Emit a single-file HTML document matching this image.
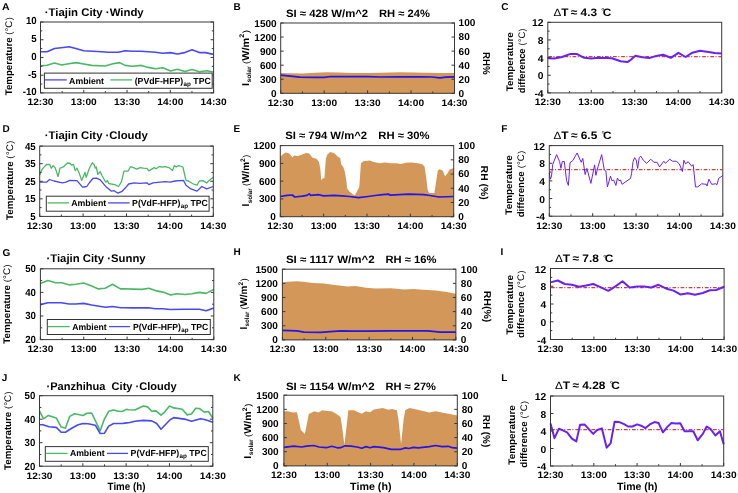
<!DOCTYPE html>
<html><head><meta charset="utf-8"><style>
html,body{margin:0;padding:0;background:#fff;width:738px;height:493px;overflow:hidden}
svg{display:block;font-family:"Liberation Sans", sans-serif;text-rendering:geometricPrecision}
</style></head><body>
<svg xmlns="http://www.w3.org/2000/svg" width="738" height="493" viewBox="0 0 738 493">
<defs><filter id="bl" x="0" y="0" width="100%" height="100%"><feGaussianBlur stdDeviation="0.4"/></filter></defs>
<rect width="738" height="493" fill="#fff"/>
<g filter="url(#bl)">
<rect width="738" height="493" fill="#fff"/>
<polyline points="40.5,65.9 47.1,65.2 54.5,62.9 61.8,65 68.5,63.8 76.4,62.6 83.7,64 91.7,65.4 105,66 113,63.8 119.7,62.6 125,65.4 132.3,66.2 141.5,65.4 148.2,67.4 155.5,68.7 162.8,67.8 170.7,71.1 177.4,69.3 184.8,71.5 192.1,69.6 199.4,71.7 206.7,70.7 213.4,72" fill="none" stroke="#4cb866" stroke-width="1.6" stroke-linejoin="round"/>
<polyline points="40.5,51.8 47.1,51.8 54.5,48.5 61.2,47.7 69.1,46.7 75.8,48.5 83.7,50.7 92.9,51.3 101.4,51.8 108.7,52.3 118.5,52.2 125,50.7 132.3,51.3 140.9,51.2 155.5,52.2 162.8,53.2 170.1,52.6 177.4,54 184.8,52.6 192.1,49.8 199.4,52.6 205.5,52.6 213.4,54.4" fill="none" stroke="#4848f2" stroke-width="1.6" stroke-linejoin="round"/>
<line x1="40.5" y1="92.9" x2="40.5" y2="89.9" stroke="#383838" stroke-width="1"/>
<line x1="83.78" y1="92.9" x2="83.78" y2="89.9" stroke="#383838" stroke-width="1"/>
<line x1="127.05" y1="92.9" x2="127.05" y2="89.9" stroke="#383838" stroke-width="1"/>
<line x1="170.32" y1="92.9" x2="170.32" y2="89.9" stroke="#383838" stroke-width="1"/>
<line x1="213.6" y1="92.9" x2="213.6" y2="89.9" stroke="#383838" stroke-width="1"/>
<line x1="62.14" y1="92.9" x2="62.14" y2="91.1" stroke="#383838" stroke-width="1"/>
<line x1="105.41" y1="92.9" x2="105.41" y2="91.1" stroke="#383838" stroke-width="1"/>
<line x1="148.69" y1="92.9" x2="148.69" y2="91.1" stroke="#383838" stroke-width="1"/>
<line x1="191.96" y1="92.9" x2="191.96" y2="91.1" stroke="#383838" stroke-width="1"/>
<line x1="40.5" y1="22" x2="43.5" y2="22" stroke="#383838" stroke-width="1"/>
<line x1="213.6" y1="22" x2="210.6" y2="22" stroke="#383838" stroke-width="1"/>
<line x1="40.5" y1="39.73" x2="43.5" y2="39.73" stroke="#383838" stroke-width="1"/>
<line x1="213.6" y1="39.73" x2="210.6" y2="39.73" stroke="#383838" stroke-width="1"/>
<line x1="40.5" y1="57.45" x2="43.5" y2="57.45" stroke="#383838" stroke-width="1"/>
<line x1="213.6" y1="57.45" x2="210.6" y2="57.45" stroke="#383838" stroke-width="1"/>
<line x1="40.5" y1="75.18" x2="43.5" y2="75.18" stroke="#383838" stroke-width="1"/>
<line x1="213.6" y1="75.18" x2="210.6" y2="75.18" stroke="#383838" stroke-width="1"/>
<line x1="40.5" y1="92.9" x2="43.5" y2="92.9" stroke="#383838" stroke-width="1"/>
<line x1="213.6" y1="92.9" x2="210.6" y2="92.9" stroke="#383838" stroke-width="1"/>
<line x1="40.5" y1="30.86" x2="42.3" y2="30.86" stroke="#383838" stroke-width="1"/>
<line x1="213.6" y1="30.86" x2="211.8" y2="30.86" stroke="#383838" stroke-width="1"/>
<line x1="40.5" y1="48.59" x2="42.3" y2="48.59" stroke="#383838" stroke-width="1"/>
<line x1="213.6" y1="48.59" x2="211.8" y2="48.59" stroke="#383838" stroke-width="1"/>
<line x1="40.5" y1="66.31" x2="42.3" y2="66.31" stroke="#383838" stroke-width="1"/>
<line x1="213.6" y1="66.31" x2="211.8" y2="66.31" stroke="#383838" stroke-width="1"/>
<line x1="40.5" y1="84.04" x2="42.3" y2="84.04" stroke="#383838" stroke-width="1"/>
<line x1="213.6" y1="84.04" x2="211.8" y2="84.04" stroke="#383838" stroke-width="1"/>
<rect x="40.5" y="22" width="173.1" height="70.9" fill="none" stroke="#383838" stroke-width="1"/>
<text x="2.1" y="10" font-size="10" font-weight="bold" textLength="7.6" lengthAdjust="spacingAndGlyphs">A</text>
<text x="44.7" y="16" font-size="11.1" font-weight="bold" textLength="99" lengthAdjust="spacingAndGlyphs">·Tiajin City ·Windy</text>
<text x="36.7" y="24.4" font-size="10.3" text-anchor="end" font-weight="bold" textLength="10.77" lengthAdjust="spacingAndGlyphs">10</text>
<text x="36.7" y="42.13" font-size="10.3" text-anchor="end" font-weight="bold" textLength="5.38" lengthAdjust="spacingAndGlyphs">5</text>
<text x="36.7" y="59.85" font-size="10.3" text-anchor="end" font-weight="bold" textLength="5.38" lengthAdjust="spacingAndGlyphs">0</text>
<text x="36.7" y="77.58" font-size="10.3" text-anchor="end" font-weight="bold" textLength="8.61" lengthAdjust="spacingAndGlyphs">-5</text>
<text x="36.7" y="95.3" font-size="10.3" text-anchor="end" font-weight="bold" textLength="13.99" lengthAdjust="spacingAndGlyphs">-10</text>
<text x="40.5" y="105.2" font-size="9.4" text-anchor="middle" font-weight="bold" textLength="26" lengthAdjust="spacingAndGlyphs">12:30</text>
<text x="83.78" y="105.2" font-size="9.4" text-anchor="middle" font-weight="bold" textLength="26" lengthAdjust="spacingAndGlyphs">13:00</text>
<text x="127.05" y="105.2" font-size="9.4" text-anchor="middle" font-weight="bold" textLength="26" lengthAdjust="spacingAndGlyphs">13:30</text>
<text x="170.32" y="105.2" font-size="9.4" text-anchor="middle" font-weight="bold" textLength="26" lengthAdjust="spacingAndGlyphs">14:00</text>
<text x="213.6" y="105.2" font-size="9.4" text-anchor="middle" font-weight="bold" textLength="26" lengthAdjust="spacingAndGlyphs">14:30</text>
<rect x="44.4" y="73.1" width="167.8" height="15.2" fill="#fff" stroke="#333" stroke-width="1"/>
<line x1="44.9" y1="79.9" x2="66.8" y2="79.9" stroke="#4848f2" stroke-width="1.3"/>
<text x="69.1" y="83.7" font-size="8.9" font-weight="bold" textLength="34.9" lengthAdjust="spacingAndGlyphs">Ambient</text>
<line x1="110.4" y1="79.9" x2="132.1" y2="79.9" stroke="#4cb866" stroke-width="1.3"/>
<g transform="translate(134.7 83.7) scale(0.9848 1)"><text x="0" y="0" font-size="8.9" font-weight="bold">(PVdF-HFP)</text><text x="49.64" y="2" font-size="6.4" font-weight="bold">ap</text><text x="57.11" y="0" font-size="8.9" font-weight="bold">&#160;TPC</text></g>
<g transform="translate(12.3 95.2) rotate(-90) scale(1.0051 1)"><text x="0" y="0" font-size="9.6" font-weight="bold">Temperature</text><text x="60.04" y="0" font-size="9">(</text><text x="63.34" y="0" font-size="9.6">°C</text><text x="74.51" y="0" font-size="9">)</text></g>
<polyline points="39.7,174.9 41.7,170 43.5,167.6 46.5,164.5 49.6,164.3 51.4,168.2 53.2,165.7 55.1,167.6 58.1,176.5 60,168.2 61.8,167.6 63.6,166.7 67.3,163 70.3,163.5 71.5,165.1 73.4,164.3 75.2,170.6 77,168.2 78.9,172.4 81.7,180.4 85,172.4 86.2,177.3 89.2,168.8 92.3,162.7 94.1,164.5 95.3,168.2 96.3,167 97.8,174.3 100.2,171.8 102,175.5 105.7,182.2 107.5,180.4 108.7,183.4 111.2,184 114.8,184.6 118.5,186.5 121.5,181.6 124,171.2 128,171.2 130.5,166.7 133.5,167.6 136.6,169.1 140.2,167.6 143.3,168.2 147,168.4 148.8,170.9 154.3,167.6 156.1,168.8 159.8,166.3 161.6,167.2 165.2,166.7 168.9,167.6 172.6,170.4 174.4,165.5 176.2,167 178.7,165.7 182.9,167 186,180.4 188.4,181 193.3,184 197,185.2 199.4,181 203,180.6 206.7,183 209.1,180.4 213.3,177.3" fill="none" stroke="#4cb866" stroke-width="1.3" stroke-linejoin="round"/>
<polyline points="39.7,182.2 46.5,182.2 49.6,179.5 53.9,181 62.4,182.8 66,182.2 69.7,180.4 77,180.6 82.5,187.1 86.8,186.5 89.2,183 92.9,178.5 96.5,178.2 100.2,179.8 106.3,187.1 111.2,191.1 114.2,190.7 117.9,193.2 122.1,191.3 125,188.3 128.7,184 134.1,182.8 139.6,183.4 147,182.8 148.8,184.6 153,182.8 165.2,181.6 170.1,182.2 175,181 183.5,180.4 186,185.2 190.9,188.9 197,191.1 201.8,186.5 206.7,188.9 213.3,186.5" fill="none" stroke="#4848f2" stroke-width="1.3" stroke-linejoin="round"/>
<line x1="39.7" y1="216.4" x2="39.7" y2="213.4" stroke="#383838" stroke-width="1"/>
<line x1="83.1" y1="216.4" x2="83.1" y2="213.4" stroke="#383838" stroke-width="1"/>
<line x1="126.5" y1="216.4" x2="126.5" y2="213.4" stroke="#383838" stroke-width="1"/>
<line x1="169.9" y1="216.4" x2="169.9" y2="213.4" stroke="#383838" stroke-width="1"/>
<line x1="213.3" y1="216.4" x2="213.3" y2="213.4" stroke="#383838" stroke-width="1"/>
<line x1="61.4" y1="216.4" x2="61.4" y2="214.6" stroke="#383838" stroke-width="1"/>
<line x1="104.8" y1="216.4" x2="104.8" y2="214.6" stroke="#383838" stroke-width="1"/>
<line x1="148.2" y1="216.4" x2="148.2" y2="214.6" stroke="#383838" stroke-width="1"/>
<line x1="191.6" y1="216.4" x2="191.6" y2="214.6" stroke="#383838" stroke-width="1"/>
<line x1="39.7" y1="146.1" x2="42.7" y2="146.1" stroke="#383838" stroke-width="1"/>
<line x1="213.3" y1="146.1" x2="210.3" y2="146.1" stroke="#383838" stroke-width="1"/>
<line x1="39.7" y1="163.68" x2="42.7" y2="163.68" stroke="#383838" stroke-width="1"/>
<line x1="213.3" y1="163.68" x2="210.3" y2="163.68" stroke="#383838" stroke-width="1"/>
<line x1="39.7" y1="181.25" x2="42.7" y2="181.25" stroke="#383838" stroke-width="1"/>
<line x1="213.3" y1="181.25" x2="210.3" y2="181.25" stroke="#383838" stroke-width="1"/>
<line x1="39.7" y1="198.82" x2="42.7" y2="198.82" stroke="#383838" stroke-width="1"/>
<line x1="213.3" y1="198.82" x2="210.3" y2="198.82" stroke="#383838" stroke-width="1"/>
<line x1="39.7" y1="216.4" x2="42.7" y2="216.4" stroke="#383838" stroke-width="1"/>
<line x1="213.3" y1="216.4" x2="210.3" y2="216.4" stroke="#383838" stroke-width="1"/>
<line x1="39.7" y1="154.89" x2="41.5" y2="154.89" stroke="#383838" stroke-width="1"/>
<line x1="213.3" y1="154.89" x2="211.5" y2="154.89" stroke="#383838" stroke-width="1"/>
<line x1="39.7" y1="172.46" x2="41.5" y2="172.46" stroke="#383838" stroke-width="1"/>
<line x1="213.3" y1="172.46" x2="211.5" y2="172.46" stroke="#383838" stroke-width="1"/>
<line x1="39.7" y1="190.04" x2="41.5" y2="190.04" stroke="#383838" stroke-width="1"/>
<line x1="213.3" y1="190.04" x2="211.5" y2="190.04" stroke="#383838" stroke-width="1"/>
<line x1="39.7" y1="207.61" x2="41.5" y2="207.61" stroke="#383838" stroke-width="1"/>
<line x1="213.3" y1="207.61" x2="211.5" y2="207.61" stroke="#383838" stroke-width="1"/>
<rect x="39.7" y="146.1" width="173.6" height="70.3" fill="none" stroke="#383838" stroke-width="1"/>
<text x="2.4" y="132.1" font-size="10" font-weight="bold">D</text>
<text x="44.8" y="139.1" font-size="11.1" font-weight="bold" textLength="102.9" lengthAdjust="spacingAndGlyphs">·Tiajin City ·Cloudy</text>
<text x="35.7" y="149.5" font-size="10.3" text-anchor="end" font-weight="bold" textLength="10.77" lengthAdjust="spacingAndGlyphs">45</text>
<text x="35.7" y="167.08" font-size="10.3" text-anchor="end" font-weight="bold" textLength="10.77" lengthAdjust="spacingAndGlyphs">35</text>
<text x="35.7" y="184.65" font-size="10.3" text-anchor="end" font-weight="bold" textLength="10.77" lengthAdjust="spacingAndGlyphs">25</text>
<text x="35.7" y="202.22" font-size="10.3" text-anchor="end" font-weight="bold" textLength="10.77" lengthAdjust="spacingAndGlyphs">15</text>
<text x="35.7" y="219.8" font-size="10.3" text-anchor="end" font-weight="bold" textLength="5.38" lengthAdjust="spacingAndGlyphs">5</text>
<text x="39.7" y="228.7" font-size="9.4" text-anchor="middle" font-weight="bold" textLength="26" lengthAdjust="spacingAndGlyphs">12:30</text>
<text x="83.1" y="228.7" font-size="9.4" text-anchor="middle" font-weight="bold" textLength="26" lengthAdjust="spacingAndGlyphs">13:00</text>
<text x="126.5" y="228.7" font-size="9.4" text-anchor="middle" font-weight="bold" textLength="26" lengthAdjust="spacingAndGlyphs">13:30</text>
<text x="169.9" y="228.7" font-size="9.4" text-anchor="middle" font-weight="bold" textLength="26" lengthAdjust="spacingAndGlyphs">14:00</text>
<text x="213.3" y="228.7" font-size="9.4" text-anchor="middle" font-weight="bold" textLength="26" lengthAdjust="spacingAndGlyphs">14:30</text>
<rect x="46.3" y="196.2" width="162.8" height="15" fill="#fff" stroke="#333" stroke-width="1"/>
<line x1="47.6" y1="202.9" x2="69" y2="202.9" stroke="#4cb866" stroke-width="1.3"/>
<text x="71.2" y="206" font-size="8.9" font-weight="bold" textLength="35" lengthAdjust="spacingAndGlyphs">Ambient</text>
<line x1="108.1" y1="202.9" x2="129.6" y2="202.9" stroke="#4848f2" stroke-width="1.3"/>
<g transform="translate(132.1 206) scale(0.9796 1)"><text x="0" y="0" font-size="8.9" font-weight="bold">P(VdF-HFP)</text><text x="49.64" y="2" font-size="6.4" font-weight="bold">ap</text><text x="57.11" y="0" font-size="8.9" font-weight="bold">&#160;TPC</text></g>
<g transform="translate(12.6 219.9) rotate(-90) scale(1.0206 1)"><text x="0" y="0" font-size="9.6" font-weight="bold">Temperature</text><text x="60.04" y="0" font-size="9">(</text><text x="63.34" y="0" font-size="9.6">°C</text><text x="74.51" y="0" font-size="9">)</text></g>
<polyline points="40.4,283.5 47.8,280.6 55.7,282.7 61.8,282.7 69.7,284.9 75.8,284.3 83.7,283 91.7,286 98.4,288.9 105.1,288.2 112.6,284.3 120.3,288.9 125,288.8 132.3,289.1 142.1,289.4 148.8,288.2 155.5,290.6 162.8,292.1 170.7,294.9 177.4,293.7 184.8,294.5 192.1,293.7 199.4,292.4 206.1,293.4 213.8,289.4" fill="none" stroke="#4cb866" stroke-width="1.6" stroke-linejoin="round"/>
<polyline points="40.4,304.6 47.8,302.8 61.2,302.8 69.1,304 75.8,304 83.7,303.4 91.7,305 99,306.2 105.7,307.2 112.4,306.5 120.9,307.7 125,307.7 132.3,307.9 148.2,307.7 155.5,308.7 162.8,308.7 170.1,309.5 184.8,309.3 199.4,309.3 206.1,310.7 213.8,307.9" fill="none" stroke="#4848f2" stroke-width="1.6" stroke-linejoin="round"/>
<line x1="40.4" y1="339.6" x2="40.4" y2="336.6" stroke="#383838" stroke-width="1"/>
<line x1="83.75" y1="339.6" x2="83.75" y2="336.6" stroke="#383838" stroke-width="1"/>
<line x1="127.1" y1="339.6" x2="127.1" y2="336.6" stroke="#383838" stroke-width="1"/>
<line x1="170.45" y1="339.6" x2="170.45" y2="336.6" stroke="#383838" stroke-width="1"/>
<line x1="213.8" y1="339.6" x2="213.8" y2="336.6" stroke="#383838" stroke-width="1"/>
<line x1="62.08" y1="339.6" x2="62.08" y2="337.8" stroke="#383838" stroke-width="1"/>
<line x1="105.43" y1="339.6" x2="105.43" y2="337.8" stroke="#383838" stroke-width="1"/>
<line x1="148.78" y1="339.6" x2="148.78" y2="337.8" stroke="#383838" stroke-width="1"/>
<line x1="192.12" y1="339.6" x2="192.12" y2="337.8" stroke="#383838" stroke-width="1"/>
<line x1="40.4" y1="268.8" x2="43.4" y2="268.8" stroke="#383838" stroke-width="1"/>
<line x1="213.8" y1="268.8" x2="210.8" y2="268.8" stroke="#383838" stroke-width="1"/>
<line x1="40.4" y1="292.4" x2="43.4" y2="292.4" stroke="#383838" stroke-width="1"/>
<line x1="213.8" y1="292.4" x2="210.8" y2="292.4" stroke="#383838" stroke-width="1"/>
<line x1="40.4" y1="316" x2="43.4" y2="316" stroke="#383838" stroke-width="1"/>
<line x1="213.8" y1="316" x2="210.8" y2="316" stroke="#383838" stroke-width="1"/>
<line x1="40.4" y1="339.6" x2="43.4" y2="339.6" stroke="#383838" stroke-width="1"/>
<line x1="213.8" y1="339.6" x2="210.8" y2="339.6" stroke="#383838" stroke-width="1"/>
<line x1="40.4" y1="280.6" x2="42.2" y2="280.6" stroke="#383838" stroke-width="1"/>
<line x1="213.8" y1="280.6" x2="212" y2="280.6" stroke="#383838" stroke-width="1"/>
<line x1="40.4" y1="304.2" x2="42.2" y2="304.2" stroke="#383838" stroke-width="1"/>
<line x1="213.8" y1="304.2" x2="212" y2="304.2" stroke="#383838" stroke-width="1"/>
<line x1="40.4" y1="327.8" x2="42.2" y2="327.8" stroke="#383838" stroke-width="1"/>
<line x1="213.8" y1="327.8" x2="212" y2="327.8" stroke="#383838" stroke-width="1"/>
<rect x="40.4" y="268.8" width="173.4" height="70.8" fill="none" stroke="#383838" stroke-width="1"/>
<text x="2.4" y="255.6" font-size="10" font-weight="bold">G</text>
<text x="46.5" y="262.4" font-size="11.1" font-weight="bold" textLength="99.1" lengthAdjust="spacingAndGlyphs">·Tiajin City ·Sunny</text>
<text x="36" y="272.2" font-size="10.3" text-anchor="end" font-weight="bold" textLength="10.77" lengthAdjust="spacingAndGlyphs">50</text>
<text x="36" y="295.8" font-size="10.3" text-anchor="end" font-weight="bold" textLength="10.77" lengthAdjust="spacingAndGlyphs">40</text>
<text x="36" y="319.4" font-size="10.3" text-anchor="end" font-weight="bold" textLength="10.77" lengthAdjust="spacingAndGlyphs">30</text>
<text x="36" y="343" font-size="10.3" text-anchor="end" font-weight="bold" textLength="10.77" lengthAdjust="spacingAndGlyphs">20</text>
<text x="40.4" y="351.9" font-size="9.4" text-anchor="middle" font-weight="bold" textLength="26" lengthAdjust="spacingAndGlyphs">12:30</text>
<text x="83.75" y="351.9" font-size="9.4" text-anchor="middle" font-weight="bold" textLength="26" lengthAdjust="spacingAndGlyphs">13:00</text>
<text x="127.1" y="351.9" font-size="9.4" text-anchor="middle" font-weight="bold" textLength="26" lengthAdjust="spacingAndGlyphs">13:30</text>
<text x="170.45" y="351.9" font-size="9.4" text-anchor="middle" font-weight="bold" textLength="26" lengthAdjust="spacingAndGlyphs">14:00</text>
<text x="213.8" y="351.9" font-size="9.4" text-anchor="middle" font-weight="bold" textLength="26" lengthAdjust="spacingAndGlyphs">14:30</text>
<rect x="47.3" y="319.5" width="163" height="15" fill="#fff" stroke="#333" stroke-width="1"/>
<line x1="47.9" y1="326.6" x2="69.7" y2="326.6" stroke="#4cb866" stroke-width="1.3"/>
<text x="72.2" y="329.8" font-size="8.9" font-weight="bold" textLength="34.5" lengthAdjust="spacingAndGlyphs">Ambient</text>
<line x1="109" y1="326.6" x2="129.9" y2="326.6" stroke="#4848f2" stroke-width="1.3"/>
<g transform="translate(132.9 329.8) scale(0.9757 1)"><text x="0" y="0" font-size="8.9" font-weight="bold">P(VdF-HFP)</text><text x="49.64" y="2" font-size="6.4" font-weight="bold">ap</text><text x="57.11" y="0" font-size="8.9" font-weight="bold">&#160;TPC</text></g>
<g transform="translate(10.4 343.8) rotate(-90) scale(1.0244 1)"><text x="0" y="0" font-size="9.6" font-weight="bold">Temperature</text><text x="60.04" y="0" font-size="9">(</text><text x="63.34" y="0" font-size="9.6">°C</text><text x="74.51" y="0" font-size="9">)</text></g>
<polyline points="39.5,410.9 43.5,418.8 48.4,415.4 56.3,417.9 61.2,427.1 65.4,428.2 69.7,416.4 74.6,413.7 83.1,415.5 86.8,413.3 91.7,413 100.2,430.8 104.5,418.8 108.7,411.3 113.6,410 117.3,411.1 122.1,411.5 126.4,409.4 128.7,409.7 134.8,410 143.3,406 147.6,406.9 151.8,411.3 156.1,410.9 161,415.2 164.6,412.1 169.5,406 173.8,407.9 182.3,409.3 187.2,414.9 191.5,414 195.7,408.2 199.4,408.5 204.3,412.1 208.5,411.5 212.8,418.2" fill="none" stroke="#4cb866" stroke-width="1.6" stroke-linejoin="round"/>
<polyline points="39.5,424.7 42.9,424.7 49,426.8 56.3,427.4 61.2,432.2 65.4,432.2 72.1,428 78.2,424.7 83.1,423.5 88,423.7 95.3,425.2 100.2,433.5 104.5,433.2 108.7,426.1 113.6,423.5 122.1,423.5 125,423.1 129.9,422.5 134.8,421.3 143.3,420.4 151.8,420.9 156.7,423.5 161,429.2 170.1,419.8 173.8,417.6 186,419.4 191.5,421.3 200.6,418.8 205.5,419.8 212.8,422.2" fill="none" stroke="#4848f2" stroke-width="1.6" stroke-linejoin="round"/>
<line x1="39.5" y1="466.2" x2="39.5" y2="463.2" stroke="#383838" stroke-width="1"/>
<line x1="82.83" y1="466.2" x2="82.83" y2="463.2" stroke="#383838" stroke-width="1"/>
<line x1="126.15" y1="466.2" x2="126.15" y2="463.2" stroke="#383838" stroke-width="1"/>
<line x1="169.48" y1="466.2" x2="169.48" y2="463.2" stroke="#383838" stroke-width="1"/>
<line x1="212.8" y1="466.2" x2="212.8" y2="463.2" stroke="#383838" stroke-width="1"/>
<line x1="61.16" y1="466.2" x2="61.16" y2="464.4" stroke="#383838" stroke-width="1"/>
<line x1="104.49" y1="466.2" x2="104.49" y2="464.4" stroke="#383838" stroke-width="1"/>
<line x1="147.81" y1="466.2" x2="147.81" y2="464.4" stroke="#383838" stroke-width="1"/>
<line x1="191.14" y1="466.2" x2="191.14" y2="464.4" stroke="#383838" stroke-width="1"/>
<line x1="39.5" y1="395.7" x2="42.5" y2="395.7" stroke="#383838" stroke-width="1"/>
<line x1="212.8" y1="395.7" x2="209.8" y2="395.7" stroke="#383838" stroke-width="1"/>
<line x1="39.5" y1="419.2" x2="42.5" y2="419.2" stroke="#383838" stroke-width="1"/>
<line x1="212.8" y1="419.2" x2="209.8" y2="419.2" stroke="#383838" stroke-width="1"/>
<line x1="39.5" y1="442.7" x2="42.5" y2="442.7" stroke="#383838" stroke-width="1"/>
<line x1="212.8" y1="442.7" x2="209.8" y2="442.7" stroke="#383838" stroke-width="1"/>
<line x1="39.5" y1="466.2" x2="42.5" y2="466.2" stroke="#383838" stroke-width="1"/>
<line x1="212.8" y1="466.2" x2="209.8" y2="466.2" stroke="#383838" stroke-width="1"/>
<line x1="39.5" y1="407.45" x2="41.3" y2="407.45" stroke="#383838" stroke-width="1"/>
<line x1="212.8" y1="407.45" x2="211" y2="407.45" stroke="#383838" stroke-width="1"/>
<line x1="39.5" y1="430.95" x2="41.3" y2="430.95" stroke="#383838" stroke-width="1"/>
<line x1="212.8" y1="430.95" x2="211" y2="430.95" stroke="#383838" stroke-width="1"/>
<line x1="39.5" y1="454.45" x2="41.3" y2="454.45" stroke="#383838" stroke-width="1"/>
<line x1="212.8" y1="454.45" x2="211" y2="454.45" stroke="#383838" stroke-width="1"/>
<rect x="39.5" y="395.7" width="173.3" height="70.5" fill="none" stroke="#383838" stroke-width="1"/>
<text x="1.8" y="381.1" font-size="10" font-weight="bold">J</text>
<text x="46.5" y="389.7" font-size="11.1" font-weight="bold" textLength="130.2" lengthAdjust="spacingAndGlyphs">·Panzhihua&#160;&#160;City ·Cloudy</text>
<text x="35.3" y="399.1" font-size="10.3" text-anchor="end" font-weight="bold" textLength="10.77" lengthAdjust="spacingAndGlyphs">50</text>
<text x="35.3" y="422.6" font-size="10.3" text-anchor="end" font-weight="bold" textLength="10.77" lengthAdjust="spacingAndGlyphs">40</text>
<text x="35.3" y="446.1" font-size="10.3" text-anchor="end" font-weight="bold" textLength="10.77" lengthAdjust="spacingAndGlyphs">30</text>
<text x="35.3" y="469.6" font-size="10.3" text-anchor="end" font-weight="bold" textLength="10.77" lengthAdjust="spacingAndGlyphs">20</text>
<text x="39.5" y="478.5" font-size="9.4" text-anchor="middle" font-weight="bold" textLength="26" lengthAdjust="spacingAndGlyphs">12:30</text>
<text x="82.83" y="478.5" font-size="9.4" text-anchor="middle" font-weight="bold" textLength="26" lengthAdjust="spacingAndGlyphs">13:00</text>
<text x="126.15" y="478.5" font-size="9.4" text-anchor="middle" font-weight="bold" textLength="26" lengthAdjust="spacingAndGlyphs">13:30</text>
<text x="169.48" y="478.5" font-size="9.4" text-anchor="middle" font-weight="bold" textLength="26" lengthAdjust="spacingAndGlyphs">14:00</text>
<text x="212.8" y="478.5" font-size="9.4" text-anchor="middle" font-weight="bold" textLength="26" lengthAdjust="spacingAndGlyphs">14:30</text>
<rect x="45.3" y="446.6" width="163" height="14.7" fill="#fff" stroke="#333" stroke-width="1"/>
<line x1="46.1" y1="453.4" x2="67.6" y2="453.4" stroke="#4cb866" stroke-width="1.3"/>
<text x="69.9" y="456.4" font-size="8.9" font-weight="bold" textLength="34.7" lengthAdjust="spacingAndGlyphs">Ambient</text>
<line x1="107" y1="453.4" x2="128" y2="453.4" stroke="#4848f2" stroke-width="1.3"/>
<g transform="translate(130.6 456.4) scale(0.9848 1)"><text x="0" y="0" font-size="8.9" font-weight="bold">P(VdF-HFP)</text><text x="49.64" y="2" font-size="6.4" font-weight="bold">ap</text><text x="57.11" y="0" font-size="8.9" font-weight="bold">&#160;TPC</text></g>
<g transform="translate(10.8 469.9) rotate(-90) scale(1.0128 1)"><text x="0" y="0" font-size="9.6" font-weight="bold">Temperature</text><text x="60.04" y="0" font-size="9">(</text><text x="63.34" y="0" font-size="9.6">°C</text><text x="74.51" y="0" font-size="9">)</text></g>
<polygon points="280.7,93.3 280.7,73 290,73.2 302.4,73.4 315,72.8 326.8,72.2 339,72.4 352,73 368,73 380,72.8 390,72.4 400,72.3 415,72.4 425,72.8 440,73.1 454.5,73 454.5,93.3" fill="#d4975a"/>
<polyline points="280.7,75.2 290.2,76.2 300,77.1 314.6,77.4 324.3,77.3 330.4,76.5 368,76.7 380,77 400,76.9 420,76.8 432,77 439.9,77.8 446,77.1 454.5,76.9" fill="none" stroke="#2412ec" stroke-width="1.7" stroke-linejoin="round"/>
<line x1="280.7" y1="23" x2="283.7" y2="23" stroke="#383838" stroke-width="1"/>
<line x1="280.7" y1="37.06" x2="283.7" y2="37.06" stroke="#383838" stroke-width="1"/>
<line x1="280.7" y1="51.12" x2="283.7" y2="51.12" stroke="#383838" stroke-width="1"/>
<line x1="280.7" y1="65.18" x2="283.7" y2="65.18" stroke="#383838" stroke-width="1"/>
<line x1="280.7" y1="79.24" x2="283.7" y2="79.24" stroke="#383838" stroke-width="1"/>
<line x1="280.7" y1="93.3" x2="283.7" y2="93.3" stroke="#383838" stroke-width="1"/>
<line x1="454.5" y1="93.3" x2="451.5" y2="93.3" stroke="#383838" stroke-width="1"/>
<line x1="454.5" y1="79.24" x2="451.5" y2="79.24" stroke="#383838" stroke-width="1"/>
<line x1="454.5" y1="65.18" x2="451.5" y2="65.18" stroke="#383838" stroke-width="1"/>
<line x1="454.5" y1="51.12" x2="451.5" y2="51.12" stroke="#383838" stroke-width="1"/>
<line x1="454.5" y1="37.06" x2="451.5" y2="37.06" stroke="#383838" stroke-width="1"/>
<line x1="454.5" y1="23" x2="451.5" y2="23" stroke="#383838" stroke-width="1"/>
<line x1="280.7" y1="93.3" x2="280.7" y2="90.3" stroke="#383838" stroke-width="1"/>
<line x1="324.15" y1="93.3" x2="324.15" y2="90.3" stroke="#383838" stroke-width="1"/>
<line x1="367.6" y1="93.3" x2="367.6" y2="90.3" stroke="#383838" stroke-width="1"/>
<line x1="411.05" y1="93.3" x2="411.05" y2="90.3" stroke="#383838" stroke-width="1"/>
<line x1="454.5" y1="93.3" x2="454.5" y2="90.3" stroke="#383838" stroke-width="1"/>
<line x1="302.43" y1="93.3" x2="302.43" y2="91.5" stroke="#383838" stroke-width="1"/>
<line x1="345.88" y1="93.3" x2="345.88" y2="91.5" stroke="#383838" stroke-width="1"/>
<line x1="389.32" y1="93.3" x2="389.32" y2="91.5" stroke="#383838" stroke-width="1"/>
<line x1="432.77" y1="93.3" x2="432.77" y2="91.5" stroke="#383838" stroke-width="1"/>
<rect x="280.7" y="23" width="173.8" height="70.3" fill="none" stroke="#383838" stroke-width="1"/>
<text x="233.6" y="9.9" font-size="10" font-weight="bold">B</text>
<text x="285.9" y="17.3" font-size="10.7" font-weight="bold" textLength="82.3" lengthAdjust="spacingAndGlyphs">SI ≈ 428 W/m^2</text>
<text x="379" y="17.3" font-size="10.7" font-weight="bold" textLength="50.9" lengthAdjust="spacingAndGlyphs">RH ≈ 24%</text>
<text x="276.7" y="26.5" font-size="10" text-anchor="end" font-weight="bold" textLength="22.4" lengthAdjust="spacingAndGlyphs">1500</text>
<text x="276.7" y="40.56" font-size="10" text-anchor="end" font-weight="bold" textLength="22.4" lengthAdjust="spacingAndGlyphs">1200</text>
<text x="276.7" y="54.62" font-size="10" text-anchor="end" font-weight="bold" textLength="16.8" lengthAdjust="spacingAndGlyphs">900</text>
<text x="276.7" y="68.68" font-size="10" text-anchor="end" font-weight="bold" textLength="16.8" lengthAdjust="spacingAndGlyphs">600</text>
<text x="276.7" y="82.74" font-size="10" text-anchor="end" font-weight="bold" textLength="16.8" lengthAdjust="spacingAndGlyphs">300</text>
<text x="276.7" y="96.8" font-size="10" text-anchor="end" font-weight="bold" textLength="5.6" lengthAdjust="spacingAndGlyphs">0</text>
<text x="458.6" y="96.7" font-size="10" font-weight="bold" textLength="5.6" lengthAdjust="spacingAndGlyphs">0</text>
<text x="458.6" y="82.64" font-size="10" font-weight="bold" textLength="11.2" lengthAdjust="spacingAndGlyphs">20</text>
<text x="458.6" y="68.58" font-size="10" font-weight="bold" textLength="11.2" lengthAdjust="spacingAndGlyphs">40</text>
<text x="458.6" y="54.52" font-size="10" font-weight="bold" textLength="11.2" lengthAdjust="spacingAndGlyphs">60</text>
<text x="458.6" y="40.46" font-size="10" font-weight="bold" textLength="11.2" lengthAdjust="spacingAndGlyphs">80</text>
<text x="458.6" y="26.4" font-size="10" font-weight="bold" textLength="16.8" lengthAdjust="spacingAndGlyphs">100</text>
<text x="280.7" y="105.6" font-size="9.4" text-anchor="middle" font-weight="bold" textLength="26" lengthAdjust="spacingAndGlyphs">12:30</text>
<text x="324.15" y="105.6" font-size="9.4" text-anchor="middle" font-weight="bold" textLength="26" lengthAdjust="spacingAndGlyphs">13:00</text>
<text x="367.6" y="105.6" font-size="9.4" text-anchor="middle" font-weight="bold" textLength="26" lengthAdjust="spacingAndGlyphs">13:30</text>
<text x="411.05" y="105.6" font-size="9.4" text-anchor="middle" font-weight="bold" textLength="26" lengthAdjust="spacingAndGlyphs">14:00</text>
<text x="454.5" y="105.6" font-size="9.4" text-anchor="middle" font-weight="bold" textLength="26" lengthAdjust="spacingAndGlyphs">14:30</text>
<g transform="translate(248.5 86) rotate(-90) scale(1.0793 1)"><text x="0" y="0" font-size="10" font-weight="bold">I</text><text x="3.18" y="2.2" font-size="6.3" font-weight="bold">solar</text><text x="20.44" y="0" font-size="8.6">(</text><text x="23.5" y="0" font-size="10" font-weight="bold">W/m</text><text x="44.71" y="-4.6" font-size="6.6" font-weight="bold">2</text><text x="48.98" y="0" font-size="9">)</text></g>
<g transform="translate(483 51.9) rotate(90) scale(0.9728 1)"><text x="0" y="0" font-size="10" font-weight="bold">RH%</text></g>
<polygon points="280.3,216.7 280.3,156.7 282.6,154.4 285.6,152.4 289.4,153.6 292.4,157.4 294,155.5 297.8,155.9 302.3,154.4 306.1,152.9 309.2,153.6 312.2,157.4 316.8,159 319,162 320.3,168.8 321.3,180.2 322.8,178.3 324.4,178.3 325.9,158.2 327.4,154.4 330.4,152.1 334.2,153.3 338,156.7 340.3,158.2 341.1,164.3 343.4,167.3 344.9,171.9 346.4,181 347.2,188.6 349.4,191.6 352.5,193.9 354.8,195.4 357,191.6 359.3,187.1 360.9,163.5 363.1,161.2 369.8,160.5 373.6,162 379.7,163.2 385,162.5 390.3,163.2 396.4,163.2 401,164 405.5,162.8 411.6,162.5 417.7,163.2 422.3,164.3 424.5,166.6 426.1,176.5 427.6,189.4 429.1,192.9 434.4,192.9 436,182.5 437.8,170.4 439.8,169.2 442.8,170.7 445.1,176.5 447.4,173.4 449.6,169.6 453.7,168.1 453.7,216.7" fill="#d4975a"/>
<polyline points="280.3,196.5 287.1,195.4 292.4,195 294.7,197 302.3,196.2 306.9,195.4 309.2,193.9 310.7,195.4 318.3,194.7 323.6,195.8 334.2,195.4 341.8,195.8 349.4,196.5 358.6,197.7 368,196.5 375.1,195.5 382.7,194.7 388.8,194.2 390.3,195.2 408.6,194.2 423.8,194.7 429.9,195.5 439,197 453.7,196.5" fill="none" stroke="#2412ec" stroke-width="1.7" stroke-linejoin="round"/>
<line x1="280.3" y1="145.6" x2="283.3" y2="145.6" stroke="#383838" stroke-width="1"/>
<line x1="280.3" y1="163.38" x2="283.3" y2="163.38" stroke="#383838" stroke-width="1"/>
<line x1="280.3" y1="181.15" x2="283.3" y2="181.15" stroke="#383838" stroke-width="1"/>
<line x1="280.3" y1="198.92" x2="283.3" y2="198.92" stroke="#383838" stroke-width="1"/>
<line x1="280.3" y1="216.7" x2="283.3" y2="216.7" stroke="#383838" stroke-width="1"/>
<line x1="453.7" y1="216.7" x2="450.7" y2="216.7" stroke="#383838" stroke-width="1"/>
<line x1="453.7" y1="202.48" x2="450.7" y2="202.48" stroke="#383838" stroke-width="1"/>
<line x1="453.7" y1="188.26" x2="450.7" y2="188.26" stroke="#383838" stroke-width="1"/>
<line x1="453.7" y1="174.04" x2="450.7" y2="174.04" stroke="#383838" stroke-width="1"/>
<line x1="453.7" y1="159.82" x2="450.7" y2="159.82" stroke="#383838" stroke-width="1"/>
<line x1="453.7" y1="145.6" x2="450.7" y2="145.6" stroke="#383838" stroke-width="1"/>
<line x1="280.3" y1="216.7" x2="280.3" y2="213.7" stroke="#383838" stroke-width="1"/>
<line x1="323.65" y1="216.7" x2="323.65" y2="213.7" stroke="#383838" stroke-width="1"/>
<line x1="367" y1="216.7" x2="367" y2="213.7" stroke="#383838" stroke-width="1"/>
<line x1="410.35" y1="216.7" x2="410.35" y2="213.7" stroke="#383838" stroke-width="1"/>
<line x1="453.7" y1="216.7" x2="453.7" y2="213.7" stroke="#383838" stroke-width="1"/>
<line x1="301.98" y1="216.7" x2="301.98" y2="214.9" stroke="#383838" stroke-width="1"/>
<line x1="345.32" y1="216.7" x2="345.32" y2="214.9" stroke="#383838" stroke-width="1"/>
<line x1="388.68" y1="216.7" x2="388.68" y2="214.9" stroke="#383838" stroke-width="1"/>
<line x1="432.02" y1="216.7" x2="432.02" y2="214.9" stroke="#383838" stroke-width="1"/>
<rect x="280.3" y="145.6" width="173.4" height="71.1" fill="none" stroke="#383838" stroke-width="1"/>
<text x="233.6" y="131.9" font-size="10" font-weight="bold">E</text>
<text x="285.2" y="139.3" font-size="10.7" font-weight="bold" textLength="81.9" lengthAdjust="spacingAndGlyphs">SI ≈ 794 W/m^2</text>
<text x="378.3" y="139.3" font-size="10.7" font-weight="bold" textLength="51.2" lengthAdjust="spacingAndGlyphs">RH ≈ 30%</text>
<text x="275.8" y="149.1" font-size="10" text-anchor="end" font-weight="bold" textLength="22.4" lengthAdjust="spacingAndGlyphs">1200</text>
<text x="275.8" y="166.88" font-size="10" text-anchor="end" font-weight="bold" textLength="16.8" lengthAdjust="spacingAndGlyphs">900</text>
<text x="275.8" y="184.65" font-size="10" text-anchor="end" font-weight="bold" textLength="16.8" lengthAdjust="spacingAndGlyphs">600</text>
<text x="275.8" y="202.42" font-size="10" text-anchor="end" font-weight="bold" textLength="16.8" lengthAdjust="spacingAndGlyphs">300</text>
<text x="275.8" y="220.2" font-size="10" text-anchor="end" font-weight="bold" textLength="5.6" lengthAdjust="spacingAndGlyphs">0</text>
<text x="458.2" y="220.1" font-size="10" font-weight="bold" textLength="5.6" lengthAdjust="spacingAndGlyphs">0</text>
<text x="458.2" y="205.88" font-size="10" font-weight="bold" textLength="11.2" lengthAdjust="spacingAndGlyphs">20</text>
<text x="458.2" y="191.66" font-size="10" font-weight="bold" textLength="11.2" lengthAdjust="spacingAndGlyphs">40</text>
<text x="458.2" y="177.44" font-size="10" font-weight="bold" textLength="11.2" lengthAdjust="spacingAndGlyphs">60</text>
<text x="458.2" y="163.22" font-size="10" font-weight="bold" textLength="11.2" lengthAdjust="spacingAndGlyphs">80</text>
<text x="458.2" y="149" font-size="10" font-weight="bold" textLength="16.8" lengthAdjust="spacingAndGlyphs">100</text>
<text x="280.3" y="229" font-size="9.4" text-anchor="middle" font-weight="bold" textLength="26" lengthAdjust="spacingAndGlyphs">12:30</text>
<text x="323.65" y="229" font-size="9.4" text-anchor="middle" font-weight="bold" textLength="26" lengthAdjust="spacingAndGlyphs">13:00</text>
<text x="367" y="229" font-size="9.4" text-anchor="middle" font-weight="bold" textLength="26" lengthAdjust="spacingAndGlyphs">13:30</text>
<text x="410.35" y="229" font-size="9.4" text-anchor="middle" font-weight="bold" textLength="26" lengthAdjust="spacingAndGlyphs">14:00</text>
<text x="453.7" y="229" font-size="9.4" text-anchor="middle" font-weight="bold" textLength="26" lengthAdjust="spacingAndGlyphs">14:30</text>
<g transform="translate(249.4 206.4) rotate(-90) scale(0.9947 1)"><text x="0" y="0" font-size="10" font-weight="bold">I</text><text x="3.18" y="2.2" font-size="6.3" font-weight="bold">solar</text><text x="20.44" y="0" font-size="8.6">(</text><text x="23.5" y="0" font-size="10" font-weight="bold">W/m</text><text x="44.71" y="-4.6" font-size="6.6" font-weight="bold">2</text><text x="48.98" y="0" font-size="9">)</text></g>
<g transform="translate(480.7 165.6) rotate(90) scale(1.0435 1)"><text x="0" y="0" font-size="10" font-weight="bold">RH&#160;(%)</text></g>
<polygon points="282.4,339.9 282.4,282.6 287.5,281.8 297,281.3 303.3,281.8 312.8,283.1 323.9,283.4 334.9,285 347.6,286.6 355.5,286.1 366,287.8 375.5,288.5 391.3,288.2 404,289.4 413.5,288.9 423,289.7 435.6,290.5 445.1,291.8 455.9,293.7 455.9,339.9" fill="#d4975a"/>
<polyline points="282.4,330.4 297,330.9 304.1,332.1 320.7,332.4 330.2,331.6 341.3,330.9 352.3,331.2 366,331.2 389.7,330.9 427.7,330.9 440.4,332.1 455.9,332.1" fill="none" stroke="#2412ec" stroke-width="1.7" stroke-linejoin="round"/>
<line x1="282.4" y1="269.2" x2="285.4" y2="269.2" stroke="#383838" stroke-width="1"/>
<line x1="282.4" y1="283.34" x2="285.4" y2="283.34" stroke="#383838" stroke-width="1"/>
<line x1="282.4" y1="297.48" x2="285.4" y2="297.48" stroke="#383838" stroke-width="1"/>
<line x1="282.4" y1="311.62" x2="285.4" y2="311.62" stroke="#383838" stroke-width="1"/>
<line x1="282.4" y1="325.76" x2="285.4" y2="325.76" stroke="#383838" stroke-width="1"/>
<line x1="282.4" y1="339.9" x2="285.4" y2="339.9" stroke="#383838" stroke-width="1"/>
<line x1="455.9" y1="339.9" x2="452.9" y2="339.9" stroke="#383838" stroke-width="1"/>
<line x1="455.9" y1="325.76" x2="452.9" y2="325.76" stroke="#383838" stroke-width="1"/>
<line x1="455.9" y1="311.62" x2="452.9" y2="311.62" stroke="#383838" stroke-width="1"/>
<line x1="455.9" y1="297.48" x2="452.9" y2="297.48" stroke="#383838" stroke-width="1"/>
<line x1="455.9" y1="283.34" x2="452.9" y2="283.34" stroke="#383838" stroke-width="1"/>
<line x1="455.9" y1="269.2" x2="452.9" y2="269.2" stroke="#383838" stroke-width="1"/>
<line x1="282.4" y1="339.9" x2="282.4" y2="336.9" stroke="#383838" stroke-width="1"/>
<line x1="325.77" y1="339.9" x2="325.77" y2="336.9" stroke="#383838" stroke-width="1"/>
<line x1="369.15" y1="339.9" x2="369.15" y2="336.9" stroke="#383838" stroke-width="1"/>
<line x1="412.52" y1="339.9" x2="412.52" y2="336.9" stroke="#383838" stroke-width="1"/>
<line x1="455.9" y1="339.9" x2="455.9" y2="336.9" stroke="#383838" stroke-width="1"/>
<line x1="304.09" y1="339.9" x2="304.09" y2="338.1" stroke="#383838" stroke-width="1"/>
<line x1="347.46" y1="339.9" x2="347.46" y2="338.1" stroke="#383838" stroke-width="1"/>
<line x1="390.84" y1="339.9" x2="390.84" y2="338.1" stroke="#383838" stroke-width="1"/>
<line x1="434.21" y1="339.9" x2="434.21" y2="338.1" stroke="#383838" stroke-width="1"/>
<rect x="282.4" y="269.2" width="173.5" height="70.7" fill="none" stroke="#383838" stroke-width="1"/>
<text x="233.6" y="255.2" font-size="10" font-weight="bold">H</text>
<text x="285.9" y="262.6" font-size="10.7" font-weight="bold" textLength="88.8" lengthAdjust="spacingAndGlyphs">SI ≈ 1117 W/m^2</text>
<text x="385.5" y="262.6" font-size="10.7" font-weight="bold" textLength="50.9" lengthAdjust="spacingAndGlyphs">RH ≈ 16%</text>
<text x="277.9" y="272.7" font-size="10" text-anchor="end" font-weight="bold" textLength="22.4" lengthAdjust="spacingAndGlyphs">1500</text>
<text x="277.9" y="286.84" font-size="10" text-anchor="end" font-weight="bold" textLength="22.4" lengthAdjust="spacingAndGlyphs">1200</text>
<text x="277.9" y="300.98" font-size="10" text-anchor="end" font-weight="bold" textLength="16.8" lengthAdjust="spacingAndGlyphs">900</text>
<text x="277.9" y="315.12" font-size="10" text-anchor="end" font-weight="bold" textLength="16.8" lengthAdjust="spacingAndGlyphs">600</text>
<text x="277.9" y="329.26" font-size="10" text-anchor="end" font-weight="bold" textLength="16.8" lengthAdjust="spacingAndGlyphs">300</text>
<text x="277.9" y="343.4" font-size="10" text-anchor="end" font-weight="bold" textLength="5.6" lengthAdjust="spacingAndGlyphs">0</text>
<text x="460.8" y="343.3" font-size="10" font-weight="bold" textLength="5.6" lengthAdjust="spacingAndGlyphs">0</text>
<text x="460.8" y="329.16" font-size="10" font-weight="bold" textLength="11.2" lengthAdjust="spacingAndGlyphs">20</text>
<text x="460.8" y="315.02" font-size="10" font-weight="bold" textLength="11.2" lengthAdjust="spacingAndGlyphs">40</text>
<text x="460.8" y="300.88" font-size="10" font-weight="bold" textLength="11.2" lengthAdjust="spacingAndGlyphs">60</text>
<text x="460.8" y="286.74" font-size="10" font-weight="bold" textLength="11.2" lengthAdjust="spacingAndGlyphs">80</text>
<text x="460.8" y="272.6" font-size="10" font-weight="bold" textLength="16.8" lengthAdjust="spacingAndGlyphs">100</text>
<text x="282.4" y="352.2" font-size="9.4" text-anchor="middle" font-weight="bold" textLength="26" lengthAdjust="spacingAndGlyphs">12:30</text>
<text x="325.77" y="352.2" font-size="9.4" text-anchor="middle" font-weight="bold" textLength="26" lengthAdjust="spacingAndGlyphs">13:00</text>
<text x="369.15" y="352.2" font-size="9.4" text-anchor="middle" font-weight="bold" textLength="26" lengthAdjust="spacingAndGlyphs">13:30</text>
<text x="412.52" y="352.2" font-size="9.4" text-anchor="middle" font-weight="bold" textLength="26" lengthAdjust="spacingAndGlyphs">14:00</text>
<text x="455.9" y="352.2" font-size="9.4" text-anchor="middle" font-weight="bold" textLength="26" lengthAdjust="spacingAndGlyphs">14:30</text>
<g transform="translate(247.1 329.6) rotate(-90) scale(0.9851 1)"><text x="0" y="0" font-size="10" font-weight="bold">I</text><text x="3.18" y="2.2" font-size="6.3" font-weight="bold">solar</text><text x="20.44" y="0" font-size="8.6">(</text><text x="23.5" y="0" font-size="10" font-weight="bold">W/m</text><text x="44.71" y="-4.6" font-size="6.6" font-weight="bold">2</text><text x="48.98" y="0" font-size="9">)</text></g>
<g transform="translate(484.3 290.7) rotate(90) scale(1.0535 1)"><text x="0" y="0" font-size="10" font-weight="bold">RH(%)</text></g>
<polygon points="283.9,465.9 283.9,411.3 287.5,411.3 293,412.6 297,412.2 300.9,430 304.9,433.9 308.8,414.1 314.4,411.3 318.3,412.6 322.3,410.2 327,411 331.8,411.3 336.5,414.1 340.5,417 342.1,426.8 344.4,445 348.4,410.2 353.9,410.2 361.8,413.8 365.8,411.3 370,412.3 373.9,409.4 382.6,408.1 388.2,409.7 392.1,409.1 396.9,410.2 398.4,418.9 401.1,444.2 403.7,418.9 405.2,410.2 409.5,408.1 416.6,409.4 423,411 429.3,412.6 435.6,411.3 442,412.6 457.3,415.4 457.3,465.9" fill="#d4975a"/>
<polyline points="283.9,447.4 293.8,446.1 301.7,447 306.5,446.1 313.6,445.5 319.1,447 326.2,447.7 331.8,446.3 337.3,447.8 340.5,447.7 345.2,445.8 350.8,446.1 357.1,447 361.8,448.2 366,446.6 370,447.7 373.9,446.6 383.4,447.7 391.3,449.3 400.8,449.3 405.6,447.9 408.7,448.5 413.5,447.4 418.2,447.9 429.3,446.6 435.6,445.5 442,446.6 448.3,446.3 452.2,447.7 457.3,448.2" fill="none" stroke="#2412ec" stroke-width="1.7" stroke-linejoin="round"/>
<line x1="283.9" y1="395.2" x2="286.9" y2="395.2" stroke="#383838" stroke-width="1"/>
<line x1="283.9" y1="409.34" x2="286.9" y2="409.34" stroke="#383838" stroke-width="1"/>
<line x1="283.9" y1="423.48" x2="286.9" y2="423.48" stroke="#383838" stroke-width="1"/>
<line x1="283.9" y1="437.62" x2="286.9" y2="437.62" stroke="#383838" stroke-width="1"/>
<line x1="283.9" y1="451.76" x2="286.9" y2="451.76" stroke="#383838" stroke-width="1"/>
<line x1="283.9" y1="465.9" x2="286.9" y2="465.9" stroke="#383838" stroke-width="1"/>
<line x1="457.3" y1="465.9" x2="454.3" y2="465.9" stroke="#383838" stroke-width="1"/>
<line x1="457.3" y1="451.76" x2="454.3" y2="451.76" stroke="#383838" stroke-width="1"/>
<line x1="457.3" y1="437.62" x2="454.3" y2="437.62" stroke="#383838" stroke-width="1"/>
<line x1="457.3" y1="423.48" x2="454.3" y2="423.48" stroke="#383838" stroke-width="1"/>
<line x1="457.3" y1="409.34" x2="454.3" y2="409.34" stroke="#383838" stroke-width="1"/>
<line x1="457.3" y1="395.2" x2="454.3" y2="395.2" stroke="#383838" stroke-width="1"/>
<line x1="283.9" y1="465.9" x2="283.9" y2="462.9" stroke="#383838" stroke-width="1"/>
<line x1="327.25" y1="465.9" x2="327.25" y2="462.9" stroke="#383838" stroke-width="1"/>
<line x1="370.6" y1="465.9" x2="370.6" y2="462.9" stroke="#383838" stroke-width="1"/>
<line x1="413.95" y1="465.9" x2="413.95" y2="462.9" stroke="#383838" stroke-width="1"/>
<line x1="457.3" y1="465.9" x2="457.3" y2="462.9" stroke="#383838" stroke-width="1"/>
<line x1="305.57" y1="465.9" x2="305.57" y2="464.1" stroke="#383838" stroke-width="1"/>
<line x1="348.93" y1="465.9" x2="348.93" y2="464.1" stroke="#383838" stroke-width="1"/>
<line x1="392.27" y1="465.9" x2="392.27" y2="464.1" stroke="#383838" stroke-width="1"/>
<line x1="435.62" y1="465.9" x2="435.62" y2="464.1" stroke="#383838" stroke-width="1"/>
<rect x="283.9" y="395.2" width="173.4" height="70.7" fill="none" stroke="#383838" stroke-width="1"/>
<text x="233.6" y="380.7" font-size="10" font-weight="bold">K</text>
<text x="285.9" y="389.9" font-size="10.7" font-weight="bold" textLength="88.8" lengthAdjust="spacingAndGlyphs">SI ≈ 1154 W/m^2</text>
<text x="385.5" y="389.9" font-size="10.7" font-weight="bold" textLength="50.5" lengthAdjust="spacingAndGlyphs">RH ≈ 27%</text>
<text x="278.7" y="398.7" font-size="10" text-anchor="end" font-weight="bold" textLength="22.4" lengthAdjust="spacingAndGlyphs">1500</text>
<text x="278.7" y="412.84" font-size="10" text-anchor="end" font-weight="bold" textLength="22.4" lengthAdjust="spacingAndGlyphs">1200</text>
<text x="278.7" y="426.98" font-size="10" text-anchor="end" font-weight="bold" textLength="16.8" lengthAdjust="spacingAndGlyphs">900</text>
<text x="278.7" y="441.12" font-size="10" text-anchor="end" font-weight="bold" textLength="16.8" lengthAdjust="spacingAndGlyphs">600</text>
<text x="278.7" y="455.26" font-size="10" text-anchor="end" font-weight="bold" textLength="16.8" lengthAdjust="spacingAndGlyphs">300</text>
<text x="278.7" y="469.4" font-size="10" text-anchor="end" font-weight="bold" textLength="5.6" lengthAdjust="spacingAndGlyphs">0</text>
<text x="461.7" y="469.3" font-size="10" font-weight="bold" textLength="5.6" lengthAdjust="spacingAndGlyphs">0</text>
<text x="461.7" y="455.16" font-size="10" font-weight="bold" textLength="11.2" lengthAdjust="spacingAndGlyphs">20</text>
<text x="461.7" y="441.02" font-size="10" font-weight="bold" textLength="11.2" lengthAdjust="spacingAndGlyphs">40</text>
<text x="461.7" y="426.88" font-size="10" font-weight="bold" textLength="11.2" lengthAdjust="spacingAndGlyphs">60</text>
<text x="461.7" y="412.74" font-size="10" font-weight="bold" textLength="11.2" lengthAdjust="spacingAndGlyphs">80</text>
<text x="461.7" y="398.6" font-size="10" font-weight="bold" textLength="16.8" lengthAdjust="spacingAndGlyphs">100</text>
<text x="283.9" y="478.2" font-size="9.4" text-anchor="middle" font-weight="bold" textLength="26" lengthAdjust="spacingAndGlyphs">12:30</text>
<text x="327.25" y="478.2" font-size="9.4" text-anchor="middle" font-weight="bold" textLength="26" lengthAdjust="spacingAndGlyphs">13:00</text>
<text x="370.6" y="478.2" font-size="9.4" text-anchor="middle" font-weight="bold" textLength="26" lengthAdjust="spacingAndGlyphs">13:30</text>
<text x="413.95" y="478.2" font-size="9.4" text-anchor="middle" font-weight="bold" textLength="26" lengthAdjust="spacingAndGlyphs">14:00</text>
<text x="457.3" y="478.2" font-size="9.4" text-anchor="middle" font-weight="bold" textLength="26" lengthAdjust="spacingAndGlyphs">14:30</text>
<g transform="translate(251.2 458.7) rotate(-90) scale(1.0620 1)"><text x="0" y="0" font-size="10" font-weight="bold">I</text><text x="3.18" y="2.2" font-size="6.3" font-weight="bold">solar</text><text x="20.44" y="0" font-size="8.6">(</text><text x="23.5" y="0" font-size="10" font-weight="bold">W/m</text><text x="44.71" y="-4.6" font-size="6.6" font-weight="bold">2</text><text x="48.98" y="0" font-size="9">)</text></g>
<g transform="translate(483.4 414.8) rotate(90) scale(0.9886 1)"><text x="0" y="0" font-size="10" font-weight="bold">RH&#160;(%)</text></g>
<line x1="548.3" y1="56.5" x2="721.2" y2="56.5" stroke="#d63c3c" stroke-width="1.25" stroke-dasharray="3.7,1.5,1,1.9"/>
<polyline points="547.8,58.2 554.2,58.5 562,57 570.4,53.9 576.6,53.9 584.3,57.8 591.2,58.5 598.9,57.8 612,58.2 620.5,61.3 627.4,62.1 630,60.4 635.4,55.7 642.3,57.3 649.3,58.1 656.2,55.9 663.1,54.7 670.8,57.8 678.5,52.8 685.5,57 692.4,52.7 700.1,50.8 708.6,52 714.7,53.1 721.7,53.6" fill="none" stroke="#6a22f0" stroke-width="2" stroke-linejoin="round"/>
<line x1="547.8" y1="92.9" x2="547.8" y2="89.9" stroke="#383838" stroke-width="1"/>
<line x1="591.27" y1="92.9" x2="591.27" y2="89.9" stroke="#383838" stroke-width="1"/>
<line x1="634.75" y1="92.9" x2="634.75" y2="89.9" stroke="#383838" stroke-width="1"/>
<line x1="678.23" y1="92.9" x2="678.23" y2="89.9" stroke="#383838" stroke-width="1"/>
<line x1="721.7" y1="92.9" x2="721.7" y2="89.9" stroke="#383838" stroke-width="1"/>
<line x1="569.54" y1="92.9" x2="569.54" y2="91.1" stroke="#383838" stroke-width="1"/>
<line x1="613.01" y1="92.9" x2="613.01" y2="91.1" stroke="#383838" stroke-width="1"/>
<line x1="656.49" y1="92.9" x2="656.49" y2="91.1" stroke="#383838" stroke-width="1"/>
<line x1="699.96" y1="92.9" x2="699.96" y2="91.1" stroke="#383838" stroke-width="1"/>
<line x1="547.8" y1="22.3" x2="550.8" y2="22.3" stroke="#383838" stroke-width="1"/>
<line x1="547.8" y1="39.95" x2="550.8" y2="39.95" stroke="#383838" stroke-width="1"/>
<line x1="547.8" y1="57.6" x2="550.8" y2="57.6" stroke="#383838" stroke-width="1"/>
<line x1="547.8" y1="75.25" x2="550.8" y2="75.25" stroke="#383838" stroke-width="1"/>
<line x1="547.8" y1="92.9" x2="550.8" y2="92.9" stroke="#383838" stroke-width="1"/>
<line x1="547.8" y1="31.12" x2="549.6" y2="31.12" stroke="#383838" stroke-width="1"/>
<line x1="547.8" y1="48.77" x2="549.6" y2="48.77" stroke="#383838" stroke-width="1"/>
<line x1="547.8" y1="66.43" x2="549.6" y2="66.43" stroke="#383838" stroke-width="1"/>
<line x1="547.8" y1="84.08" x2="549.6" y2="84.08" stroke="#383838" stroke-width="1"/>
<rect x="547.8" y="22.3" width="173.9" height="70.6" fill="none" stroke="#383838" stroke-width="1"/>
<text x="501.2" y="10" font-size="10" font-weight="bold">C</text>
<g transform="translate(553.4 15.5) scale(1.0959 1)"><text x="0" y="0" font-size="10.6">Δ</text><text x="7.08" y="0" font-size="10.8" font-weight="bold">T</text><text x="15.88" y="0" font-size="11" font-weight="bold">≈</text><text x="24.81" y="0" font-size="10.8" font-weight="bold">4.3</text><text x="43.43" y="-1.6" font-size="8.5">°</text><text x="45.13" y="0" font-size="10.8" font-weight="bold">C</text></g>
<text x="543.6" y="26.3" font-size="10" text-anchor="end" font-weight="bold" textLength="11.46" lengthAdjust="spacingAndGlyphs">12</text>
<text x="543.6" y="43.95" font-size="10" text-anchor="end" font-weight="bold" textLength="5.73" lengthAdjust="spacingAndGlyphs">8</text>
<text x="543.6" y="61.6" font-size="10" text-anchor="end" font-weight="bold" textLength="5.73" lengthAdjust="spacingAndGlyphs">4</text>
<text x="543.6" y="79.25" font-size="10" text-anchor="end" font-weight="bold" textLength="5.73" lengthAdjust="spacingAndGlyphs">0</text>
<text x="543.6" y="96.9" font-size="10" text-anchor="end" font-weight="bold" textLength="9.16" lengthAdjust="spacingAndGlyphs">-4</text>
<text x="547.8" y="105.2" font-size="9.4" text-anchor="middle" font-weight="bold" textLength="26" lengthAdjust="spacingAndGlyphs">12:30</text>
<text x="591.27" y="105.2" font-size="9.4" text-anchor="middle" font-weight="bold" textLength="26" lengthAdjust="spacingAndGlyphs">13:00</text>
<text x="634.75" y="105.2" font-size="9.4" text-anchor="middle" font-weight="bold" textLength="26" lengthAdjust="spacingAndGlyphs">13:30</text>
<text x="678.23" y="105.2" font-size="9.4" text-anchor="middle" font-weight="bold" textLength="26" lengthAdjust="spacingAndGlyphs">14:00</text>
<text x="721.7" y="105.2" font-size="9.4" text-anchor="middle" font-weight="bold" textLength="26" lengthAdjust="spacingAndGlyphs">14:30</text>
<g transform="translate(513.4 91.2) rotate(-90) scale(1.0380 1)"><text x="0" y="0" font-size="9.5" font-weight="bold">Temperature</text></g>
<g transform="translate(525.3 93.2) rotate(-90) scale(0.9859 1)"><text x="0" y="0" font-size="9.5" font-weight="bold">difference</text><text x="48.4" y="0" font-size="8.8">(</text><text x="51.63" y="0" font-size="9.5">°C</text><text x="62.69" y="0" font-size="8.8">)</text></g>
<line x1="549.8" y1="169.5" x2="722.3" y2="169.5" stroke="#d63c3c" stroke-width="1.25" stroke-dasharray="3.7,1.5,1,1.9"/>
<polyline points="549.3,173 550.4,179.2 551.5,176.1 552.7,164.6 556.6,154.6 559.6,161.5 560.9,168.4 562.3,161.5 564.3,161.5 566.6,180.8 568.4,185.4 570,162.7 572.7,160.7 577.1,153 581.2,162.3 582.8,158.4 585.1,174.6 586.9,168.4 590.9,183.4 594.6,164.9 595.9,175.4 598.2,166.1 601.7,154.6 604.3,170 605.9,171 607.4,186.9 610.5,176.1 612,180.8 613.6,180 615.9,185.4 617.4,178.1 619,180.8 620.5,180 622.1,184.3 630.5,178.4 631.5,173.8 633.1,161.5 634.6,157.6 636.2,160 637.7,168.4 639.2,157.6 640.8,156.1 643.1,160 646.6,163.3 650.8,159.2 653.9,162.3 657,162.3 659.6,166.9 663.9,161.2 665.4,163.3 669.8,159.2 672.4,161.2 676.2,161.2 679.3,163.8 682.4,171.5 683.9,160.3 685.5,163.8 688.2,161.8 691.6,166.1 693.2,164.6 695.5,186.9 697.8,186.9 701.6,183.8 706.3,184.3 707,186.1 708.9,179.2 711.7,184.3 715.5,183.8 717.1,184.6 718.6,178.4 720.9,176.9 722.8,175.4" fill="none" stroke="#6a22f0" stroke-width="1" stroke-linejoin="round"/>
<line x1="549.3" y1="216.2" x2="549.3" y2="213.2" stroke="#383838" stroke-width="1"/>
<line x1="592.67" y1="216.2" x2="592.67" y2="213.2" stroke="#383838" stroke-width="1"/>
<line x1="636.05" y1="216.2" x2="636.05" y2="213.2" stroke="#383838" stroke-width="1"/>
<line x1="679.42" y1="216.2" x2="679.42" y2="213.2" stroke="#383838" stroke-width="1"/>
<line x1="722.8" y1="216.2" x2="722.8" y2="213.2" stroke="#383838" stroke-width="1"/>
<line x1="570.99" y1="216.2" x2="570.99" y2="214.4" stroke="#383838" stroke-width="1"/>
<line x1="614.36" y1="216.2" x2="614.36" y2="214.4" stroke="#383838" stroke-width="1"/>
<line x1="657.74" y1="216.2" x2="657.74" y2="214.4" stroke="#383838" stroke-width="1"/>
<line x1="701.11" y1="216.2" x2="701.11" y2="214.4" stroke="#383838" stroke-width="1"/>
<line x1="549.3" y1="145.6" x2="552.3" y2="145.6" stroke="#383838" stroke-width="1"/>
<line x1="549.3" y1="163.25" x2="552.3" y2="163.25" stroke="#383838" stroke-width="1"/>
<line x1="549.3" y1="180.9" x2="552.3" y2="180.9" stroke="#383838" stroke-width="1"/>
<line x1="549.3" y1="198.55" x2="552.3" y2="198.55" stroke="#383838" stroke-width="1"/>
<line x1="549.3" y1="216.2" x2="552.3" y2="216.2" stroke="#383838" stroke-width="1"/>
<line x1="549.3" y1="154.43" x2="551.1" y2="154.43" stroke="#383838" stroke-width="1"/>
<line x1="549.3" y1="172.07" x2="551.1" y2="172.07" stroke="#383838" stroke-width="1"/>
<line x1="549.3" y1="189.72" x2="551.1" y2="189.72" stroke="#383838" stroke-width="1"/>
<line x1="549.3" y1="207.38" x2="551.1" y2="207.38" stroke="#383838" stroke-width="1"/>
<rect x="549.3" y="145.6" width="173.5" height="70.6" fill="none" stroke="#383838" stroke-width="1"/>
<text x="501.2" y="132.1" font-size="10" font-weight="bold">F</text>
<g transform="translate(553.4 138.5) scale(1.1015 1)"><text x="0" y="0" font-size="10.6">Δ</text><text x="7.08" y="0" font-size="10.8" font-weight="bold">T</text><text x="15.88" y="0" font-size="11" font-weight="bold">≈</text><text x="24.81" y="0" font-size="10.8" font-weight="bold">6.5</text><text x="43.43" y="-1.6" font-size="8.5">°</text><text x="45.13" y="0" font-size="10.8" font-weight="bold">C</text></g>
<text x="545.1" y="149.6" font-size="10" text-anchor="end" font-weight="bold" textLength="11.46" lengthAdjust="spacingAndGlyphs">12</text>
<text x="545.1" y="167.25" font-size="10" text-anchor="end" font-weight="bold" textLength="5.73" lengthAdjust="spacingAndGlyphs">8</text>
<text x="545.1" y="184.9" font-size="10" text-anchor="end" font-weight="bold" textLength="5.73" lengthAdjust="spacingAndGlyphs">4</text>
<text x="545.1" y="202.55" font-size="10" text-anchor="end" font-weight="bold" textLength="5.73" lengthAdjust="spacingAndGlyphs">0</text>
<text x="545.1" y="220.2" font-size="10" text-anchor="end" font-weight="bold" textLength="9.16" lengthAdjust="spacingAndGlyphs">-4</text>
<text x="549.3" y="228.5" font-size="9.4" text-anchor="middle" font-weight="bold" textLength="26" lengthAdjust="spacingAndGlyphs">12:30</text>
<text x="592.67" y="228.5" font-size="9.4" text-anchor="middle" font-weight="bold" textLength="26" lengthAdjust="spacingAndGlyphs">13:00</text>
<text x="636.05" y="228.5" font-size="9.4" text-anchor="middle" font-weight="bold" textLength="26" lengthAdjust="spacingAndGlyphs">13:30</text>
<text x="679.42" y="228.5" font-size="9.4" text-anchor="middle" font-weight="bold" textLength="26" lengthAdjust="spacingAndGlyphs">14:00</text>
<text x="722.8" y="228.5" font-size="9.4" text-anchor="middle" font-weight="bold" textLength="26" lengthAdjust="spacingAndGlyphs">14:30</text>
<g transform="translate(511.5 214.7) rotate(-90) scale(1.0468 1)"><text x="0" y="0" font-size="9.5" font-weight="bold">Temperature</text></g>
<g transform="translate(524.3 217.3) rotate(-90) scale(1.0118 1)"><text x="0" y="0" font-size="9.5" font-weight="bold">difference</text><text x="48.4" y="0" font-size="8.8">(</text><text x="51.63" y="0" font-size="9.5">°C</text><text x="62.69" y="0" font-size="8.8">)</text></g>
<line x1="551" y1="287.5" x2="723.6" y2="287.5" stroke="#d63c3c" stroke-width="1.25" stroke-dasharray="3.7,1.5,1,1.9"/>
<polyline points="550.5,282.4 557.7,280.5 564.8,284 571.9,284.8 579,286.7 586.1,285.6 593.2,284 600.4,287.1 608.3,290.8 615.4,286.4 622.5,281.3 629.6,287.6 630,287.5 637.1,286.4 644.2,286.4 651.4,287.5 658.5,284.8 666.4,288.7 673.5,290.6 680.6,294.6 687.8,293.2 694.9,294.7 702.8,293 709.9,290.3 716.2,290 724.1,286.8" fill="none" stroke="#6a22f0" stroke-width="2" stroke-linejoin="round"/>
<line x1="550.5" y1="339.5" x2="550.5" y2="336.5" stroke="#383838" stroke-width="1"/>
<line x1="593.9" y1="339.5" x2="593.9" y2="336.5" stroke="#383838" stroke-width="1"/>
<line x1="637.3" y1="339.5" x2="637.3" y2="336.5" stroke="#383838" stroke-width="1"/>
<line x1="680.7" y1="339.5" x2="680.7" y2="336.5" stroke="#383838" stroke-width="1"/>
<line x1="724.1" y1="339.5" x2="724.1" y2="336.5" stroke="#383838" stroke-width="1"/>
<line x1="572.2" y1="339.5" x2="572.2" y2="337.7" stroke="#383838" stroke-width="1"/>
<line x1="615.6" y1="339.5" x2="615.6" y2="337.7" stroke="#383838" stroke-width="1"/>
<line x1="659" y1="339.5" x2="659" y2="337.7" stroke="#383838" stroke-width="1"/>
<line x1="702.4" y1="339.5" x2="702.4" y2="337.7" stroke="#383838" stroke-width="1"/>
<line x1="550.5" y1="268.5" x2="553.5" y2="268.5" stroke="#383838" stroke-width="1"/>
<line x1="550.5" y1="286.25" x2="553.5" y2="286.25" stroke="#383838" stroke-width="1"/>
<line x1="550.5" y1="304" x2="553.5" y2="304" stroke="#383838" stroke-width="1"/>
<line x1="550.5" y1="321.75" x2="553.5" y2="321.75" stroke="#383838" stroke-width="1"/>
<line x1="550.5" y1="339.5" x2="553.5" y2="339.5" stroke="#383838" stroke-width="1"/>
<line x1="550.5" y1="277.38" x2="552.3" y2="277.38" stroke="#383838" stroke-width="1"/>
<line x1="550.5" y1="295.12" x2="552.3" y2="295.12" stroke="#383838" stroke-width="1"/>
<line x1="550.5" y1="312.88" x2="552.3" y2="312.88" stroke="#383838" stroke-width="1"/>
<line x1="550.5" y1="330.62" x2="552.3" y2="330.62" stroke="#383838" stroke-width="1"/>
<rect x="550.5" y="268.5" width="173.6" height="71" fill="none" stroke="#383838" stroke-width="1"/>
<text x="500.6" y="255.2" font-size="10" font-weight="bold">I</text>
<g transform="translate(554.9 262.2) scale(1.1072 1)"><text x="0" y="0" font-size="10.6">Δ</text><text x="7.08" y="0" font-size="10.8" font-weight="bold">T</text><text x="15.88" y="0" font-size="11" font-weight="bold">≈</text><text x="24.81" y="0" font-size="10.8" font-weight="bold">7.8</text><text x="43.43" y="-1.6" font-size="8.5">°</text><text x="45.13" y="0" font-size="10.8" font-weight="bold">C</text></g>
<text x="546.3" y="272.5" font-size="10" text-anchor="end" font-weight="bold" textLength="11.46" lengthAdjust="spacingAndGlyphs">12</text>
<text x="546.3" y="290.25" font-size="10" text-anchor="end" font-weight="bold" textLength="5.73" lengthAdjust="spacingAndGlyphs">8</text>
<text x="546.3" y="308" font-size="10" text-anchor="end" font-weight="bold" textLength="5.73" lengthAdjust="spacingAndGlyphs">4</text>
<text x="546.3" y="325.75" font-size="10" text-anchor="end" font-weight="bold" textLength="5.73" lengthAdjust="spacingAndGlyphs">0</text>
<text x="546.3" y="343.5" font-size="10" text-anchor="end" font-weight="bold" textLength="9.16" lengthAdjust="spacingAndGlyphs">-4</text>
<text x="550.5" y="351.8" font-size="9.4" text-anchor="middle" font-weight="bold" textLength="26" lengthAdjust="spacingAndGlyphs">12:30</text>
<text x="593.9" y="351.8" font-size="9.4" text-anchor="middle" font-weight="bold" textLength="26" lengthAdjust="spacingAndGlyphs">13:00</text>
<text x="637.3" y="351.8" font-size="9.4" text-anchor="middle" font-weight="bold" textLength="26" lengthAdjust="spacingAndGlyphs">13:30</text>
<text x="680.7" y="351.8" font-size="9.4" text-anchor="middle" font-weight="bold" textLength="26" lengthAdjust="spacingAndGlyphs">14:00</text>
<text x="724.1" y="351.8" font-size="9.4" text-anchor="middle" font-weight="bold" textLength="26" lengthAdjust="spacingAndGlyphs">14:30</text>
<g transform="translate(512.6 334.4) rotate(-90) scale(1.0468 1)"><text x="0" y="0" font-size="9.5" font-weight="bold">Temperature</text></g>
<g transform="translate(523.9 337.9) rotate(-90) scale(1.0255 1)"><text x="0" y="0" font-size="9.5" font-weight="bold">difference</text><text x="48.4" y="0" font-size="8.8">(</text><text x="51.63" y="0" font-size="9.5">°C</text><text x="62.69" y="0" font-size="8.8">)</text></g>
<line x1="551" y1="429.5" x2="723.2" y2="429.5" stroke="#d63c3c" stroke-width="1.25" stroke-dasharray="3.7,1.5,1,1.9"/>
<polyline points="550.5,423.6 554.5,438.2 558.9,428.7 567.1,432.3 571.9,438.7 576.3,441.4 580.1,424.7 584.5,424.4 593.2,433.9 597.2,430 601.9,428.4 606.7,447.7 610.6,443.4 614.6,421.7 619.3,422.1 624.1,424.1 628,426.5 632.4,426.5 637.1,424.4 641.1,425.7 645.5,428.1 649.8,424.4 654.5,422.1 658.5,422.9 662.9,432.3 667.2,427.1 671.5,422.9 675.9,423.6 680.3,423.3 684.6,431.2 693.3,431.2 697.7,440.3 702.8,433.9 706.7,426.5 710.7,429.2 715.4,435.5 719.9,431.2 723.7,444.2" fill="none" stroke="#6a22f0" stroke-width="2" stroke-linejoin="round"/>
<line x1="550.5" y1="466" x2="550.5" y2="463" stroke="#383838" stroke-width="1"/>
<line x1="593.8" y1="466" x2="593.8" y2="463" stroke="#383838" stroke-width="1"/>
<line x1="637.1" y1="466" x2="637.1" y2="463" stroke="#383838" stroke-width="1"/>
<line x1="680.4" y1="466" x2="680.4" y2="463" stroke="#383838" stroke-width="1"/>
<line x1="723.7" y1="466" x2="723.7" y2="463" stroke="#383838" stroke-width="1"/>
<line x1="572.15" y1="466" x2="572.15" y2="464.2" stroke="#383838" stroke-width="1"/>
<line x1="615.45" y1="466" x2="615.45" y2="464.2" stroke="#383838" stroke-width="1"/>
<line x1="658.75" y1="466" x2="658.75" y2="464.2" stroke="#383838" stroke-width="1"/>
<line x1="702.05" y1="466" x2="702.05" y2="464.2" stroke="#383838" stroke-width="1"/>
<line x1="550.5" y1="396" x2="553.5" y2="396" stroke="#383838" stroke-width="1"/>
<line x1="550.5" y1="413.5" x2="553.5" y2="413.5" stroke="#383838" stroke-width="1"/>
<line x1="550.5" y1="431" x2="553.5" y2="431" stroke="#383838" stroke-width="1"/>
<line x1="550.5" y1="448.5" x2="553.5" y2="448.5" stroke="#383838" stroke-width="1"/>
<line x1="550.5" y1="466" x2="553.5" y2="466" stroke="#383838" stroke-width="1"/>
<rect x="550.5" y="396" width="173.2" height="70" fill="none" stroke="#383838" stroke-width="1"/>
<text x="501.2" y="381" font-size="10" font-weight="bold">L</text>
<g transform="translate(554.9 388.5) scale(1.1029 1)"><text x="0" y="0" font-size="10.6">Δ</text><text x="7.08" y="0" font-size="10.8" font-weight="bold">T</text><text x="15.88" y="0" font-size="11" font-weight="bold">≈</text><text x="24.81" y="0" font-size="10.8" font-weight="bold">4.28</text><text x="49.43" y="-1.6" font-size="8.5">°</text><text x="51.13" y="0" font-size="10.8" font-weight="bold">C</text></g>
<text x="546.3" y="400" font-size="10" text-anchor="end" font-weight="bold" textLength="11.46" lengthAdjust="spacingAndGlyphs">12</text>
<text x="546.3" y="417.5" font-size="10" text-anchor="end" font-weight="bold" textLength="5.73" lengthAdjust="spacingAndGlyphs">8</text>
<text x="546.3" y="435" font-size="10" text-anchor="end" font-weight="bold" textLength="5.73" lengthAdjust="spacingAndGlyphs">4</text>
<text x="546.3" y="452.5" font-size="10" text-anchor="end" font-weight="bold" textLength="5.73" lengthAdjust="spacingAndGlyphs">0</text>
<text x="546.3" y="470" font-size="10" text-anchor="end" font-weight="bold" textLength="9.16" lengthAdjust="spacingAndGlyphs">-4</text>
<text x="550.5" y="478.3" font-size="9.4" text-anchor="middle" font-weight="bold" textLength="26" lengthAdjust="spacingAndGlyphs">12:30</text>
<text x="593.8" y="478.3" font-size="9.4" text-anchor="middle" font-weight="bold" textLength="26" lengthAdjust="spacingAndGlyphs">13:00</text>
<text x="637.1" y="478.3" font-size="9.4" text-anchor="middle" font-weight="bold" textLength="26" lengthAdjust="spacingAndGlyphs">13:30</text>
<text x="680.4" y="478.3" font-size="9.4" text-anchor="middle" font-weight="bold" textLength="26" lengthAdjust="spacingAndGlyphs">14:00</text>
<text x="723.7" y="478.3" font-size="9.4" text-anchor="middle" font-weight="bold" textLength="26" lengthAdjust="spacingAndGlyphs">14:30</text>
<g transform="translate(514.7 464.7) rotate(-90) scale(1.0468 1)"><text x="0" y="0" font-size="9.5" font-weight="bold">Temperature</text></g>
<g transform="translate(526.9 467.7) rotate(-90) scale(1.0179 1)"><text x="0" y="0" font-size="9.5" font-weight="bold">difference</text><text x="48.4" y="0" font-size="8.8">(</text><text x="51.63" y="0" font-size="9.5">°C</text><text x="62.69" y="0" font-size="8.8">)</text></g>
<text x="126.5" y="489.6" font-size="10.6" text-anchor="middle" font-weight="bold" textLength="37.8" lengthAdjust="spacingAndGlyphs">Time (h)</text>
<text x="370.8" y="489.6" font-size="10.6" text-anchor="middle" font-weight="bold" textLength="41.4" lengthAdjust="spacingAndGlyphs">Time (h)</text>
<text x="637.3" y="489.6" font-size="10.6" text-anchor="middle" font-weight="bold" textLength="40.6" lengthAdjust="spacingAndGlyphs">Time (h)</text>
</g>
</svg>
</body></html>
